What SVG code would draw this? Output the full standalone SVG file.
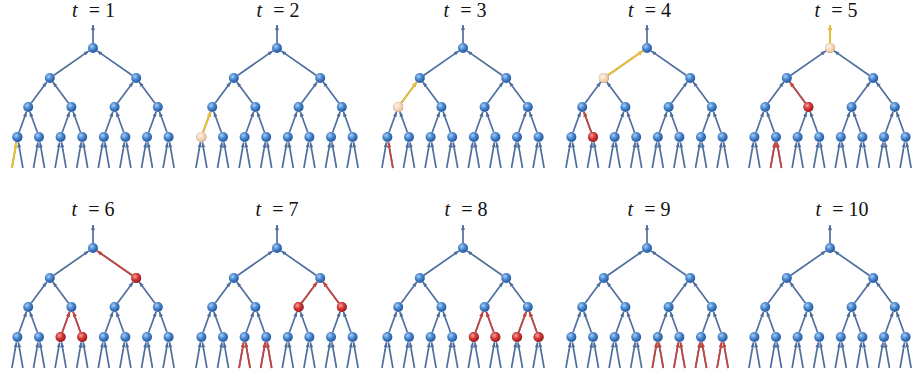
<svg xmlns="http://www.w3.org/2000/svg" xmlns:xlink="http://www.w3.org/1999/xlink" width="913" height="382" viewBox="0 0 913 382">
<style>
.e{stroke:#4e6f9e;stroke-width:1.7;fill:none;marker-end:url(#mb)}
.er{stroke:#c9443a;stroke-width:1.7;fill:none;marker-end:url(#mr)}
.ey{stroke:#f0c030;stroke-width:1.9;fill:none;marker-end:url(#my)}
.n{fill:url(#gb)}
.nr{fill:url(#gr)}
.np{fill:url(#gp)}
.title{font-family:"Liberation Serif","Times New Roman",serif;font-size:20px;fill:#111;text-anchor:middle}
</style>
<defs>
<radialGradient id="gb" cx="0.38" cy="0.35" r="0.7"><stop offset="0" stop-color="#a9cff5"/><stop offset="0.45" stop-color="#4a88d0"/><stop offset="1" stop-color="#1d4f96"/></radialGradient>
<radialGradient id="gr" cx="0.38" cy="0.35" r="0.7"><stop offset="0" stop-color="#f6a5a0"/><stop offset="0.45" stop-color="#d83a35"/><stop offset="1" stop-color="#9e1515"/></radialGradient>
<radialGradient id="gp" cx="0.38" cy="0.35" r="0.7"><stop offset="0" stop-color="#fff4e8"/><stop offset="0.5" stop-color="#f9d8b6"/><stop offset="1" stop-color="#e6b88c"/></radialGradient>
<marker id="mb" viewBox="0 0 5 4" refX="5" refY="2" markerWidth="5" markerHeight="4" markerUnits="userSpaceOnUse" orient="auto"><path d="M0,0 L5,2 L0,4 z" fill="#4e6f9e"/></marker>
<marker id="mr" viewBox="0 0 5 4" refX="5" refY="2" markerWidth="5" markerHeight="4" markerUnits="userSpaceOnUse" orient="auto"><path d="M0,0 L5,2 L0,4 z" fill="#c9443a"/></marker>
<marker id="my" viewBox="0 0 5 4" refX="5" refY="2" markerWidth="5" markerHeight="4" markerUnits="userSpaceOnUse" orient="auto"><path d="M0,0 L5,2 L0,4 z" fill="#f0c030"/></marker>
<g id="tree">
 <g id="connectors">
  <path class="e" d="M0,43 L0,25"/>
  <path class="e" d="M-39.1,75.2 L-4.1,50.9"/>
  <path class="e" d="M39.1,75.2 L4.1,50.9"/>
  <path class="e" d="M-61.8,103 L-46.2,82"/>
  <path class="e" d="M-24.6,103 L-40.2,82"/>
  <path class="e" d="M24.6,103 L40.2,82"/>
  <path class="e" d="M61.8,103 L46.2,82"/>
  <path class="e" d="M-73.9,132.3 L-66.5,111.7"/>
  <path class="e" d="M-55.7,132.3 L-63.1,111.7"/>
  <path class="e" d="M-30.7,132.3 L-23.3,111.7"/>
  <path class="e" d="M-12.5,132.3 L-19.9,111.7"/>
  <path class="e" d="M12.5,132.3 L19.9,111.7"/>
  <path class="e" d="M30.7,132.3 L23.3,111.7"/>
  <path class="e" d="M55.7,132.3 L63.1,111.7"/>
  <path class="e" d="M73.9,132.3 L66.5,111.7"/>
  <path class="e" d="M-81.1,168 L-76.6,142.4"/><path class="e" d="M-70.1,168 L-74.6,142.4"/>
  <path class="e" d="M-59.5,168 L-55,142.4"/><path class="e" d="M-48.5,168 L-53,142.4"/>
  <path class="e" d="M-37.9,168 L-33.4,142.4"/><path class="e" d="M-26.9,168 L-31.4,142.4"/>
  <path class="e" d="M-16.3,168 L-11.8,142.4"/><path class="e" d="M-5.3,168 L-9.8,142.4"/>
  <path class="e" d="M5.3,168 L9.8,142.4"/><path class="e" d="M16.3,168 L11.8,142.4"/>
  <path class="e" d="M26.9,168 L31.4,142.4"/><path class="e" d="M37.9,168 L33.4,142.4"/>
  <path class="e" d="M48.5,168 L53,142.4"/><path class="e" d="M59.5,168 L55,142.4"/>
  <path class="e" d="M70.1,168 L74.6,142.4"/><path class="e" d="M81.1,168 L76.6,142.4"/>
 </g>
 <g id="n-root"><circle class="n" cx="0" cy="48" r="5"/></g>
 <g id="n-a0"><circle class="n" cx="-43.2" cy="78" r="5"/></g>
 <g id="n-a1"><circle class="n" cx="43.2" cy="78" r="5"/></g>
 <g id="n-b0"><circle class="n" cx="-64.8" cy="107" r="5"/></g>
 <g id="n-b1"><circle class="n" cx="-21.6" cy="107" r="5"/></g>
 <g id="n-b2"><circle class="n" cx="21.6" cy="107" r="5"/></g>
 <g id="n-b3"><circle class="n" cx="64.8" cy="107" r="5"/></g>
 <g id="n-c0"><circle class="n" cx="-75.6" cy="137" r="5"/></g>
 <g id="n-c1"><circle class="n" cx="-54" cy="137" r="5"/></g>
 <g id="n-c2"><circle class="n" cx="-32.4" cy="137" r="5"/></g>
 <g id="n-c3"><circle class="n" cx="-10.8" cy="137" r="5"/></g>
 <g id="n-c4"><circle class="n" cx="10.8" cy="137" r="5"/></g>
 <g id="n-c5"><circle class="n" cx="32.4" cy="137" r="5"/></g>
 <g id="n-c6"><circle class="n" cx="54" cy="137" r="5"/></g>
 <g id="n-c7"><circle class="n" cx="75.6" cy="137" r="5"/></g>
</g>
</defs>
<rect width="913" height="382" fill="#ffffff"/>

<g id="panel-t1" transform="translate(93,0)">
 <text class="title" x="0.5" y="17"><tspan font-style="italic">t</tspan><tspan dx="6"> = 1</tspan></text>
 <use href="#tree"/>
 <g id="t1-connectors"><path class="ey" d="M-81.1,168 L-76.6,142.4"/></g>
 <g id="t1-n-c0"><circle class="n" cx="-75.6" cy="137" r="5"/></g>
</g>

<g id="panel-t2" transform="translate(277,0)">
 <text class="title" x="1" y="17"><tspan font-style="italic">t</tspan><tspan dx="6"> = 2</tspan></text>
 <use href="#tree"/>
 <g id="t2-connectors"><path class="ey" d="M-73.9,132.3 L-66.5,111.7"/></g>
 <g id="t2-n-c0"><circle class="np" cx="-75.6" cy="137" r="5"/></g>
</g>

<g id="panel-t3" transform="translate(463,0)">
 <text class="title" x="2" y="17"><tspan font-style="italic">t</tspan><tspan dx="6"> = 3</tspan></text>
 <use href="#tree"/>
 <g id="t3-connectors">
  <path class="ey" d="M-61.8,103 L-46.2,82"/>
  <path class="er" d="M-70.1,168 L-74.6,142.4"/>
 </g>
 <g id="t3-n-b0"><circle class="np" cx="-64.8" cy="107" r="5"/></g>
</g>

<g id="panel-t4" transform="translate(647,0)">
 <text class="title" x="2.5" y="17"><tspan font-style="italic">t</tspan><tspan dx="6"> = 4</tspan></text>
 <use href="#tree"/>
 <g id="t4-connectors">
  <path class="ey" d="M-39.1,75.2 L-4.1,50.9"/>
  <path class="er" d="M-55.7,132.3 L-63.1,111.7"/>
 </g>
 <g id="t4-n-a0"><circle class="np" cx="-43.2" cy="78" r="5"/></g>
 <g id="t4-n-c1"><circle class="nr" cx="-54" cy="137" r="5"/></g>
</g>

<g id="panel-t5" transform="translate(830,0)">
 <text class="title" x="6" y="17"><tspan font-style="italic">t</tspan><tspan dx="6"> = 5</tspan></text>
 <use href="#tree"/>
 <g id="t5-connectors">
  <path class="ey" d="M0,43 L0,25"/>
  <path class="er" d="M-24.6,103 L-40.2,82"/>
  <path class="er" d="M-59.5,168 L-55,142.4"/><path class="er" d="M-48.5,168 L-53,142.4"/>
 </g>
 <g id="t5-n-root"><circle class="np" cx="0" cy="48" r="5"/></g>
 <g id="t5-n-b1"><circle class="nr" cx="-21.6" cy="107" r="5"/></g>
</g>

<g id="panel-t6" transform="translate(93,200)">
 <text class="title" x="0" y="16"><tspan font-style="italic">t</tspan><tspan dx="6"> = 6</tspan></text>
 <use href="#tree"/>
 <g id="t6-connectors">
  <path class="er" d="M39.1,75.2 L4.1,50.9"/>
  <path class="er" d="M-30.7,132.3 L-23.3,111.7"/>
  <path class="er" d="M-12.5,132.3 L-19.9,111.7"/>
 </g>
 <g id="t6-n-a1"><circle class="nr" cx="43.2" cy="78" r="5"/></g>
 <g id="t6-n-c2"><circle class="nr" cx="-32.4" cy="137" r="5"/></g>
 <g id="t6-n-c3"><circle class="nr" cx="-10.8" cy="137" r="5"/></g>
</g>

<g id="panel-t7" transform="translate(277,200)">
 <text class="title" x="0" y="16"><tspan font-style="italic">t</tspan><tspan dx="6"> = 7</tspan></text>
 <use href="#tree"/>
 <g id="t7-connectors">
  <path class="er" d="M24.6,103 L40.2,82"/>
  <path class="er" d="M61.8,103 L46.2,82"/>
  <path class="er" d="M-37.9,168 L-33.4,142.4"/><path class="er" d="M-26.9,168 L-31.4,142.4"/>
  <path class="er" d="M-16.3,168 L-11.8,142.4"/><path class="er" d="M-5.3,168 L-9.8,142.4"/>
 </g>
 <g id="t7-n-b2"><circle class="nr" cx="21.6" cy="107" r="5"/></g>
 <g id="t7-n-b3"><circle class="nr" cx="64.8" cy="107" r="5"/></g>
</g>

<g id="panel-t8" transform="translate(463,200)">
 <text class="title" x="3" y="16"><tspan font-style="italic">t</tspan><tspan dx="6"> = 8</tspan></text>
 <use href="#tree"/>
 <g id="t8-connectors">
  <path class="er" d="M12.5,132.3 L19.9,111.7"/>
  <path class="er" d="M30.7,132.3 L23.3,111.7"/>
  <path class="er" d="M55.7,132.3 L63.1,111.7"/>
  <path class="er" d="M73.9,132.3 L66.5,111.7"/>
 </g>
 <g id="t8-n-c4"><circle class="nr" cx="10.8" cy="137" r="5"/></g>
 <g id="t8-n-c5"><circle class="nr" cx="32.4" cy="137" r="5"/></g>
 <g id="t8-n-c6"><circle class="nr" cx="54" cy="137" r="5"/></g>
 <g id="t8-n-c7"><circle class="nr" cx="75.6" cy="137" r="5"/></g>
</g>

<g id="panel-t9" transform="translate(647,200)">
 <text class="title" x="2" y="16"><tspan font-style="italic">t</tspan><tspan dx="6"> = 9</tspan></text>
 <use href="#tree"/>
 <g id="t9-connectors">
  <path class="er" d="M5.3,168 L9.8,142.4"/><path class="er" d="M16.3,168 L11.8,142.4"/>
  <path class="er" d="M26.9,168 L31.4,142.4"/><path class="er" d="M37.9,168 L33.4,142.4"/>
  <path class="er" d="M48.5,168 L53,142.4"/><path class="er" d="M59.5,168 L55,142.4"/>
  <path class="er" d="M70.1,168 L74.6,142.4"/><path class="er" d="M81.1,168 L76.6,142.4"/>
 </g>
</g>

<g id="panel-t10" transform="translate(830,200)">
 <text class="title" x="12" y="16"><tspan font-style="italic">t</tspan><tspan dx="6"> = 10</tspan></text>
 <use href="#tree"/>
</g>
</svg>
